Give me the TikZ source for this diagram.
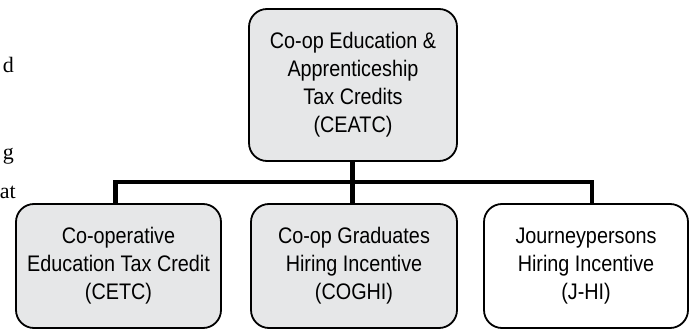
\documentclass[tikz,border=0pt]{standalone}
\usepackage{fontspec}
\setmainfont{Liberation Serif}
\newfontfamily\boxfont[FakeStretch=0.88]{Liberation Sans}
\definecolor{boxgray}{RGB}{230,231,232}
\begin{document}
\begin{tikzpicture}[x=1pt,y=-1pt,
  box/.style={draw=black, line width=1.8pt, rounded corners=18pt, inner sep=0pt,
    align=center, font=\boxfont\fontsize{22.5}{28}\selectfont},
  shaded/.style={box, fill=boxgray},
  plain/.style={box, fill=white},
  conn/.style={line width=4.5pt, line join=miter},
  margin/.style={font=\fontsize{22}{26}\selectfont, inner sep=0pt, anchor=base east}]
\useasboundingbox (0,0) rectangle (693,331);

% line ends of the running text beside the chart
\node[margin] (m1) at (14,73) {d};
\node[margin] (m2) at (14,160) {g};
\node[margin] (m3) at (16,199) {at};

% boxes
\node[shaded, minimum width=208pt, minimum height=152pt] (ceatc) at (353,85)
  {Co-op Education \&\\Apprenticeship\\Tax Credits\\(CEATC)};
\node[shaded, minimum width=205pt, minimum height=124pt] (cetc) at (118.5,266)
  {Co-operative\\Education Tax Credit\\(CETC)};
\node[shaded, minimum width=206pt, minimum height=124pt] (coghi) at (354,266)
  {Co-op Graduates\\Hiring Incentive\\(COGHI)};
\node[plain, minimum width=204pt, minimum height=124pt] (jhi) at (586,266)
  {Journeypersons\\Hiring Incentive\\(J-HI)};

% connectors
\coordinate (barL) at (115.5,182);
\coordinate (barR) at (592,182);
\coordinate (barM) at (352.5,182);
\draw[conn] (barL |- cetc.north) -- (barL) -- (barR) -- (barR |- jhi.north);
\draw[conn] (barM |- ceatc.south) -- (barM |- coghi.north);
\end{tikzpicture}
\end{document}
